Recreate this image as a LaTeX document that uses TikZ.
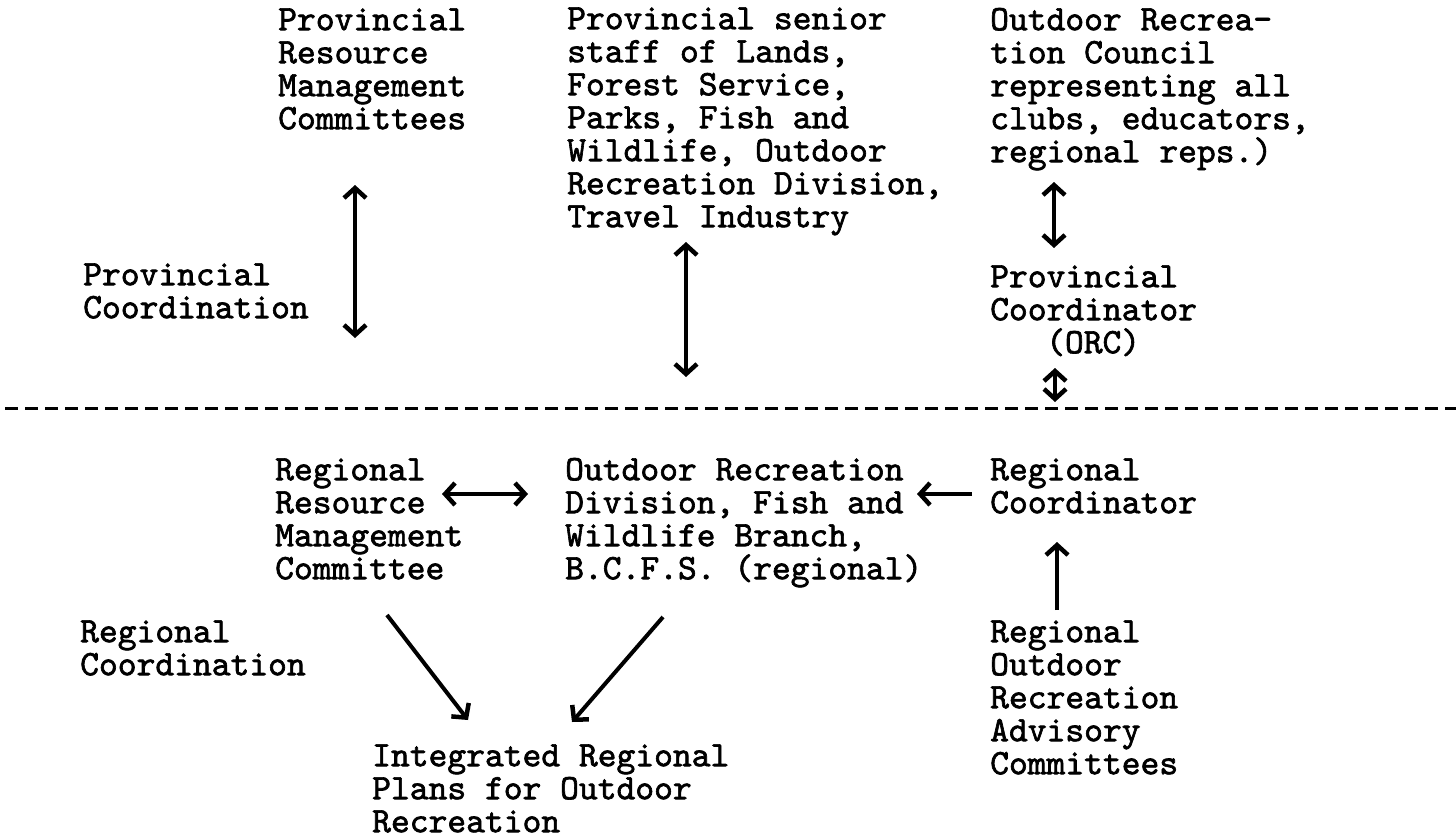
\documentclass[tikz,border=0pt]{standalone}
\usepackage{fontspec}
\newfontfamily\typew[FakeBold=1.8]{lmmono10-regular.otf}
\usetikzlibrary{arrows.meta}
\begin{document}
\begin{tikzpicture}[x=1pt,y=-1pt,
  txt/.style={anchor=north west,inner sep=0pt,align=left,
    font=\typew\fontsize{35.8}{33}\selectfont},
  tip/.style={Straight Barb[length=10pt,width=22pt,line width=4.5pt]},
  conn/.style={line width=4pt,{Straight Barb[length=10pt,width=22pt,line width=4.5pt]}-{Straight Barb[length=10pt,width=22pt,line width=4.5pt]}},
  oneway/.style={line width=4pt,-{Straight Barb[length=10pt,width=22pt,line width=4.5pt]}},
  sep/.style={line width=3pt,dash pattern=on 13pt off 7pt}]
\useasboundingbox (0,0) rectangle (1456,838);
\def\st{\rule{0pt}{30pt}}
% top section
\node[txt] (provrmc) at (278,0) {\st Provincial\\Resource\\Management\\Committees};
\node[txt] (senior) at (567,-1) {\st Provincial senior\\staff of Lands,\\Forest Service,\\Parks, Fish and\\Wildlife, Outdoor\\Recreation Division,\\Travel Industry};
\node[txt] (orc) at (990,0) {\st Outdoor Recrea-\\tion Council\\representing all\\clubs, educators,\\regional reps.)};
\node[txt] (provcoord) at (83,255) {\st Provincial\\Coordination};
\node[txt] (provcoordr) at (990,257) {\st Provincial\\Coordinator\\\hspace*{56pt}(ORC)};
% bottom section
\node[txt] (regrmc) at (275,450) {\st Regional\\Resource\\Management\\Committee};
\node[txt] (ordiv) at (565,450) {\st Outdoor Recreation\\Division, Fish and\\Wildlife Branch,\\B.C.F.S. (regional)};
\node[txt] (regcoordr) at (990,450) {\st Regional\\Coordinator};
\node[txt] (regcoord) at (80,612) {\st Regional\\Coordination};
\node[txt] (advisory) at (990,612) {\st Regional\\Outdoor\\Recreation\\Advisory\\Committees};
\node[txt] (plans) at (372,736) {\st Integrated Regional\\Plans for Outdoor\\Recreation};
% connector end points
\coordinate (a1t) at (355,185); \coordinate (a1b) at (355,338);
\coordinate (a2t) at (686,242); \coordinate (a2b) at (686,377);
\coordinate (a3t) at (1054,182); \coordinate (a3b) at (1054,248);
\coordinate (a4t) at (1055,368); \coordinate (a4b) at (1055,402);
\coordinate (h1l) at (442,494); \coordinate (h1r) at (528,494);
\coordinate (h2r) at (972,494); \coordinate (h2l) at (917,494);
\coordinate (upb) at (1057,610); \coordinate (upt) at (1057,542);
\coordinate (d1s) at (387,615); \coordinate (d1e) at (468,720);
\coordinate (d2s) at (663,617); \coordinate (d2e) at (572,722);
\coordinate (sepl) at (5,408); \coordinate (sepr) at (1456,408);
% connectors
\draw[conn] (a1t) -- (a1b);
\draw[conn] (a2t) -- (a2b);
\draw[conn] (a3t) -- (a3b);
\draw[conn] (a4t) -- (a4b);
\draw[conn] (h1l) -- (h1r);
\draw[oneway] (h2r) -- (h2l);
\draw[oneway] (upb) -- (upt);
\draw[oneway] (d1s) -- (d1e);
\draw[oneway] (d2s) -- (d2e);
\draw[sep] (sepl) -- (sepr);
\end{tikzpicture}
\end{document}
